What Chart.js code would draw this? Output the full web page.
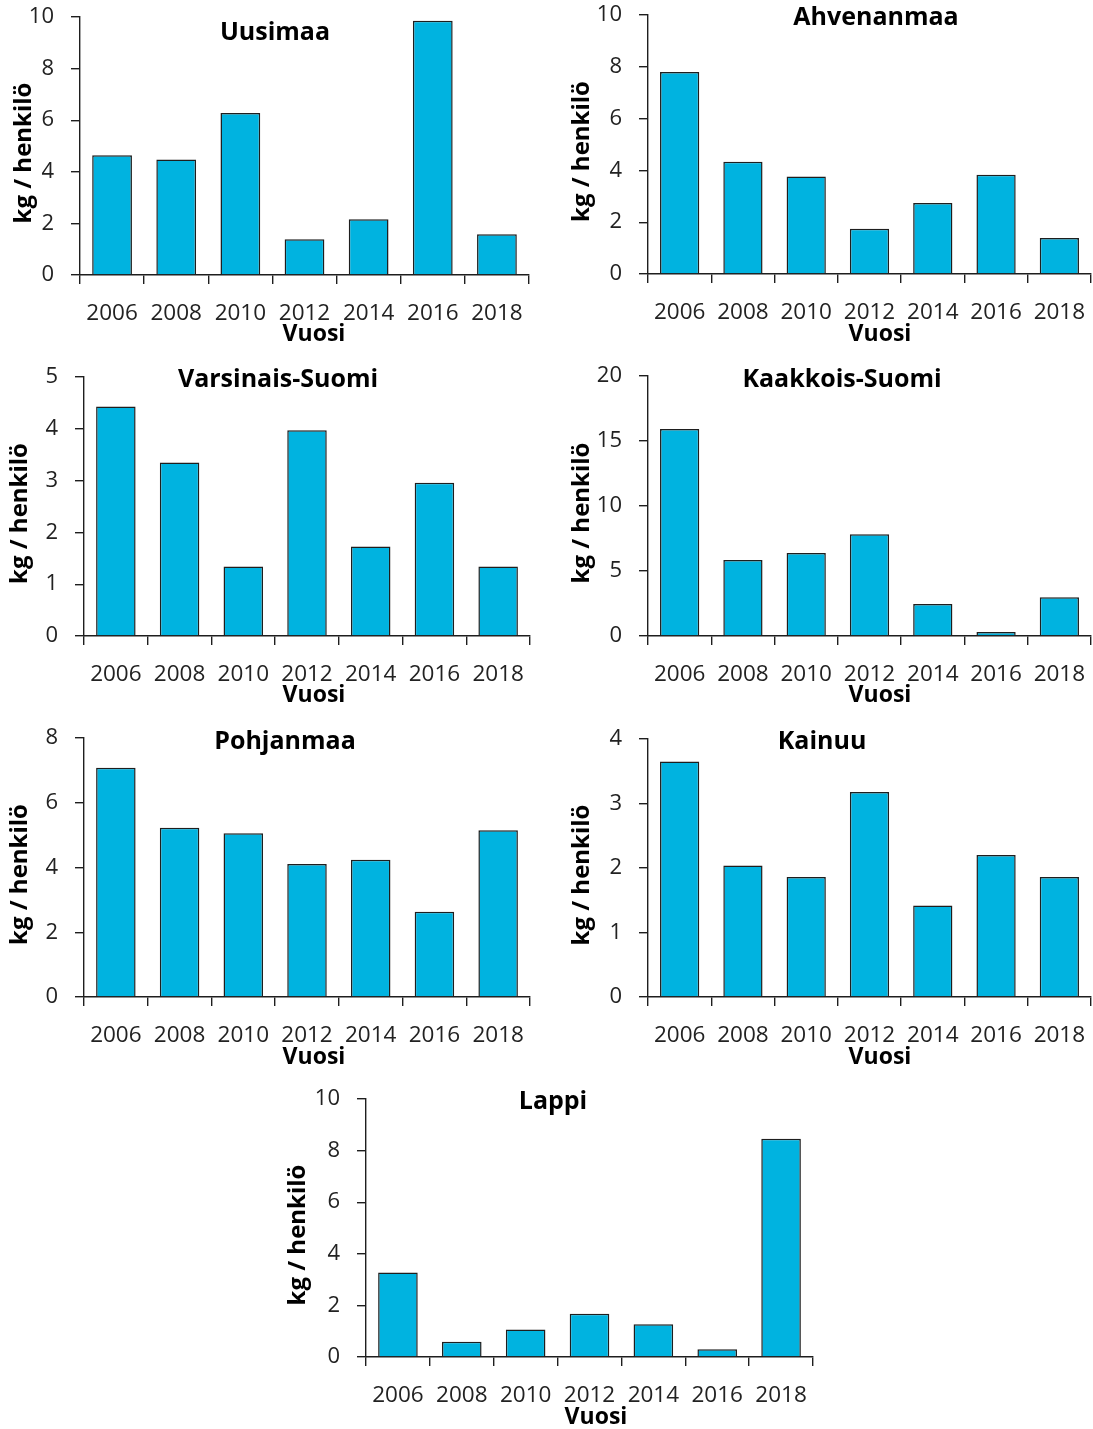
<!DOCTYPE html>
<html>
<head>
<meta charset="utf-8">
<script src="https://cdn.jsdelivr.net/npm/chart.js@4"></script>
<style>
  body { margin: 0; background: #fff; width: 1093px; height: 1429px; position: relative; overflow: hidden; }
  canvas { position: absolute; }
</style>
</head>
<body>
<script>
/* ---------- data ---------- */
const years = ["2006", "2008", "2010", "2012", "2014", "2016", "2018"];

const uusimaa         = [4.64, 4.48, 6.28, 1.39, 2.16, 9.85, 1.58];
const ahvenanmaa      = [7.80, 4.33, 3.76, 1.75, 2.74, 3.83, 1.39];
const varsinaisSuomi  = [4.43, 3.35, 1.34, 3.97, 1.73, 2.96, 1.34];
const kaakkoisSuomi   = [15.92, 5.85, 6.39, 7.83, 2.46, 0.31, 2.98];
const pohjanmaa       = [7.08, 5.23, 5.06, 4.11, 4.24, 2.63, 5.15];
const kainuu          = [3.65, 2.04, 1.86, 3.18, 1.42, 2.20, 1.86];
const lappi           = [3.28, 0.59, 1.07, 1.68, 1.27, 0.30, 8.46];

const regionNames = ["Uusimaa", "Ahvenanmaa", "Varsinais-Suomi", "Kaakkois-Suomi", "Pohjanmaa", "Kainuu", "Lappi"];
const regionValues = [uusimaa, ahvenanmaa, varsinaisSuomi, kaakkoisSuomi, pohjanmaa, kainuu, lappi];
const yMaxes = [10, 10, 5, 20, 8, 4, 10];
const ySteps = [2, 2, 1, 5, 2, 1, 2];

const yTitle = "kg / henkilö";
const xTitle = "Vuosi";

/* ---------- layout (page pixels) ---------- */
// l,t,r,b = plot area; tx,ty = title centre; vx,vy = "Vuosi" centre; yx = y title centre x
const boxes = [
  { l: 80,  t: 17,   r: 529,  b: 275,  tx: 275, ty: 33,   vx: 314, vy: 334,  yx: 24 },
  { l: 648, t: 15,   r: 1091, b: 274,  tx: 876, ty: 18,   vx: 880, vy: 334,  yx: 582 },
  { l: 84,  t: 377,  r: 530,  b: 636,  tx: 278, ty: 380,  vx: 314, vy: 695,  yx: 20 },
  { l: 648, t: 376,  r: 1091, b: 636,  tx: 842, ty: 380,  vx: 880, vy: 695,  yx: 582 },
  { l: 84,  t: 738,  r: 530,  b: 997,  tx: 285, ty: 742,  vx: 314, vy: 1057, yx: 20 },
  { l: 648, t: 739,  r: 1091, b: 997,  tx: 822, ty: 742,  vx: 880, vy: 1057, yx: 582 },
  { l: 366, t: 1099, r: 813,  b: 1357, tx: 553, ty: 1102, vx: 596, vy: 1417, yx: 298 }
];

const FONT = "'Open Sans', 'Noto Sans', sans-serif";
const INK = "#1e1e1e";
const BAR = "#00b3e0";
// padding kept larger than the scales' own label padding so the plot box lands where asked
const Y_W = 84, PAD_T = 36, PAD_R = 16, X_H = 80;

/* ---------- text plugin ---------- */
const textPlugin = {
  id: "panelText",
  afterDraw(chart, args, opts) {
    const c = chart.ctx;
    const bx = opts.box, ox = opts.ox, oy = opts.oy;
    c.save();
    c.fillStyle = "#000";
    c.textAlign = "center";
    c.textBaseline = "middle";
    c.font = "bold 25px " + FONT;
    c.fillText(opts.title, bx.tx - ox, bx.ty - oy);
    c.font = "bold 23px " + FONT;
    c.fillText(xTitle, bx.vx - ox, bx.vy - oy);
    c.font = "bold 24px " + FONT;
    c.translate(bx.yx - ox, (bx.t + bx.b) / 2 + 7 - oy);
    c.rotate(-Math.PI / 2);
    c.fillText(yTitle, 0, 0);
    c.restore();
  }
};

/* ---------- build ---------- */
function buildPanel(i) {
  const bx = boxes[i];
  const ox = bx.l - Y_W, oy = bx.t - PAD_T;
  const cv = document.createElement("canvas");
  cv.width = bx.r - bx.l + Y_W + PAD_R;
  cv.height = bx.b - bx.t + PAD_T + X_H;
  cv.style.left = ox + "px";
  cv.style.top = oy + "px";
  document.body.appendChild(cv);

  new Chart(cv.getContext("2d"), {
    type: "bar",
    data: {
      labels: years,
      datasets: [{
        data: regionValues[i],
        backgroundColor: BAR,
        borderColor: INK,
        borderWidth: 1.5,
        barPercentage: 0.62,
        categoryPercentage: 1
      }]
    },
    plugins: [textPlugin],
    options: {
      responsive: false,
      animation: false,
      layout: { padding: { top: PAD_T, right: PAD_R, left: 0, bottom: 0 } },
      plugins: {
        legend: { display: false },
        tooltip: { enabled: false },
        panelText: { box: bx, ox, oy, title: regionNames[i] }
      },
      scales: {
        x: {
          afterFit: s => { s.height = X_H; },
          grid: { display: true, drawOnChartArea: false, offset: true, tickLength: 9, color: INK, lineWidth: 1.4 },
          border: { display: true, color: INK, width: 1.4 },
          ticks: { color: "#222", font: { family: FONT, size: 22.5 }, padding: 16, maxRotation: 0, autoSkip: false }
        },
        y: {
          min: 0,
          max: yMaxes[i],
          afterFit: s => { s.width = Y_W; },
          grid: { display: true, drawOnChartArea: false, tickLength: 9, color: INK, lineWidth: 1.4 },
          border: { display: true, color: INK, width: 1.4 },
          ticks: { stepSize: ySteps[i], color: "#222", font: { family: FONT, size: 22 }, padding: 17 }
        }
      }
    }
  });
}

for (let i = 0; i < regionNames.length; i++) buildPanel(i);
</script>
</body>
</html>
